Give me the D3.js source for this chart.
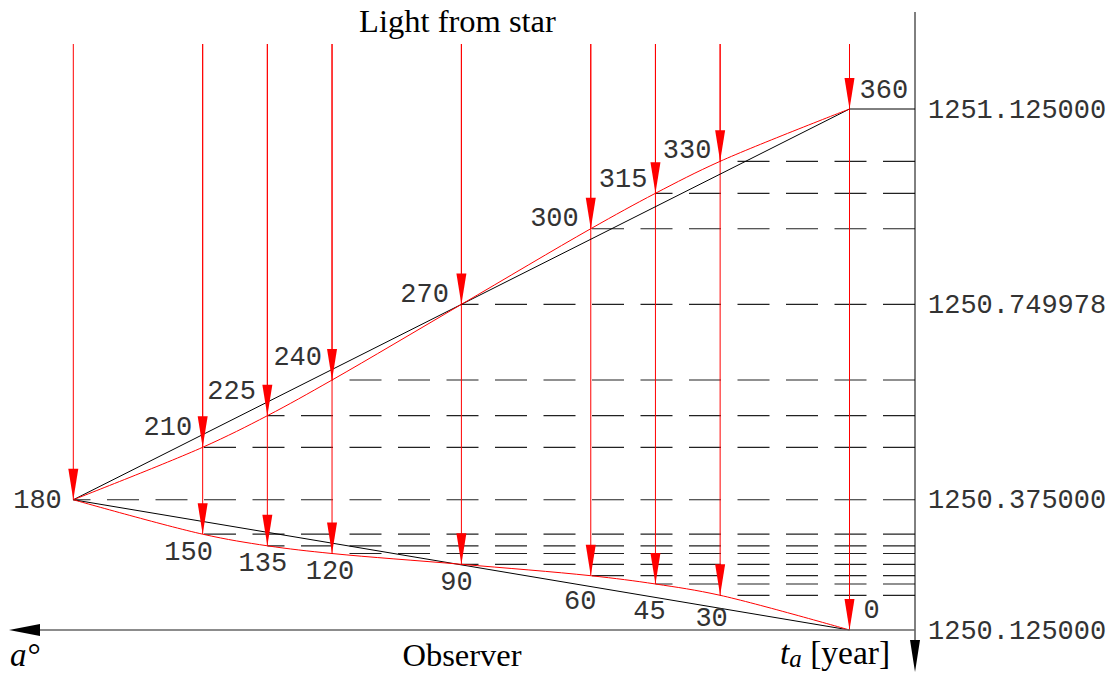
<!DOCTYPE html>
<html>
<head>
<meta charset="utf-8">
<script src="https://cdn.jsdelivr.net/npm/d3@7"></script>
<style>
  html, body { margin: 0; padding: 0; background: #fff; }
  svg { display: block; }
</style>
</head>
<body>
<svg id="chart" width="1110" height="673"></svg>
<script>
// Orbital angle of the observer (degrees) and the year at which light arrives
const angles = [0, 30, 45, 60, 90, 120, 135, 150, 180, 210, 225, 240, 270, 300, 315, 330, 360];
const arrivalTimes = [1250.125, 1250.1916, 1250.2133, 1250.2292, 1250.2511, 1250.2718, 1250.2866, 1250.3089,
                      1250.375, 1250.4757, 1250.5363, 1250.6048, 1250.749978, 1250.8952, 1250.9632, 1251.0246, 1251.125];

// Uniform-time reference path (straight segments)
const refAngles = [0, 180, 360];
const refTimes = [1250.125, 1250.375, 1251.125];

// Year values printed on the time axis
const yearTicks = [1250.125, 1250.375, 1250.749978, 1251.125];

// Label placement around each point
const labelPlace = {
  0:   { anchor: "start",  dx: 14,   dy: -12 },
  30:  { anchor: "middle", dx: -8.5, dy: 31 },
  45:  { anchor: "middle", dx: -6,   dy: 35 },
  60:  { anchor: "middle", dx: -10.5,dy: 33 },
  90:  { anchor: "middle", dx: -5,   dy: 26 },
  120: { anchor: "middle", dx: -2,   dy: 25.5 },
  135: { anchor: "middle", dx: -4.5, dy: 25 },
  150: { anchor: "middle", dx: -14,  dy: 26 },
  180: { anchor: "end",    dx: -11.5,dy: 8.5 },
  210: { anchor: "end",    dx: -10.5,dy: -12.3 },
  225: { anchor: "end",    dx: -11.5,dy: -16.7 },
  240: { anchor: "end",    dx: -10,  dy: -15 },
  270: { anchor: "end",    dx: -12.5,dy: -2.4 },
  300: { anchor: "end",    dx: -12,  dy: -2.7 },
  315: { anchor: "end",    dx: -8,   dy: -6 },
  330: { anchor: "end",    dx: -8.7, dy: -3 },
  360: { anchor: "start",  dx: 10,   dy: -11 }
};

const svg = d3.select("#chart");
const RED = "#ff0000";
const MONO = "'Liberation Mono', 'Courier New', monospace";
const SERIF = "'Liberation Serif', 'DejaVu Serif', serif";
const LABEL_INK = "#333";

// Angle scale: 0° on the right, 180° on the left; the second half folds back
const xAngle = d3.scaleLinear().domain([0, 180]).range([849.5, 73.3]);
const xOf = a => xAngle(a <= 180 ? a : 360 - a);
const y = d3.scaleLinear().domain([1250.125, 1251.125]).range([630, 109]);

const axisX = 915;
const rayTop = 44;

const pts = angles.map((a, i) => ({ a, t: arrivalTimes[i], x: xOf(a), y: y(arrivalTimes[i]) }));

// Horizontal guides from each arrival point to the time axis
const guides = svg.append("g");
pts.forEach(p => {
  if (p.a === 0) return;
  guides.append("line")
    .attr("x1", axisX).attr("x2", p.x)
    .attr("y1", p.y).attr("y2", p.y)
    .attr("stroke", p.a === 360 ? "#000" : "#222")
    .attr("stroke-width", p.a === 360 ? 1 : 1.2)
    .attr("stroke-dasharray", p.a === 360 ? null : "32,16.5");
});

// Light rays from the star
const rays = svg.append("g");
pts.forEach(p => {
  rays.append("line")
    .attr("x1", p.x).attr("x2", p.x)
    .attr("y1", rayTop).attr("y2", p.y)
    .attr("stroke", RED).attr("stroke-width", 1);
});

// Reference path (black)
const refLine = d3.line().x(d => xOf(d[0])).y(d => y(d[1]));
svg.append("path")
  .attr("d", refLine(refAngles.map((a, i) => [a, refTimes[i]])))
  .attr("fill", "none").attr("stroke", "#000").attr("stroke-width", 1);

// Arrival curve (red), drawn as two branches meeting at 180°
const curve = d3.line().x(d => d.x).y(d => d.y).curve(d3.curveCatmullRom.alpha(0.5));
svg.append("path").attr("d", curve(pts.filter(p => p.a <= 180)))
  .attr("fill", "none").attr("stroke", RED).attr("stroke-width", 1);
svg.append("path").attr("d", curve(pts.filter(p => p.a >= 180)))
  .attr("fill", "none").attr("stroke", RED).attr("stroke-width", 1);

// Arrowheads at the arrival points
const heads = svg.append("g");
pts.forEach(p => {
  heads.append("path")
    .attr("d", `M${p.x},${p.y} L${p.x - 5},${p.y - 31} L${p.x + 5},${p.y - 31} Z`)
    .attr("fill", RED);
});

// Angle labels
const labels = svg.append("g")
  .attr("font-family", MONO).attr("font-size", 27).attr("fill", LABEL_INK);
pts.forEach(p => {
  const lp = labelPlace[p.a];
  labels.append("text")
    .attr("x", p.x + lp.dx).attr("y", p.y + lp.dy)
    .attr("text-anchor", lp.anchor)
    .text(p.a);
});

// Time axis on the right
svg.append("line")
  .attr("x1", axisX).attr("x2", axisX).attr("y1", 12).attr("y2", 642)
  .attr("stroke", "#000").attr("stroke-width", 1);
svg.append("path")
  .attr("d", `M${axisX},672 L${axisX - 5},640 L${axisX + 5},640 Z`).attr("fill", "#000");

const yearAxis = d3.axisRight(y)
  .tickValues(yearTicks)
  .tickSize(0)
  .tickPadding(13)
  .tickFormat(d3.format(".6f"));
const ya = svg.append("g").attr("transform", `translate(${axisX},0)`).call(yearAxis);
ya.select(".domain").remove();
ya.selectAll("text")
  .attr("font-family", MONO).attr("font-size", 27).attr("fill", LABEL_INK)
  .attr("dy", "0.3em");

// Observer baseline with arrow pointing toward increasing angle
svg.append("line")
  .attr("x1", 38).attr("x2", axisX).attr("y1", 630).attr("y2", 630)
  .attr("stroke", "#666").attr("stroke-width", 1.5);
svg.append("path")
  .attr("d", "M9,630 L40,624 L40,636 Z").attr("fill", "#000");

// Titles
svg.append("text")
  .attr("x", 457.5).attr("y", 32).attr("text-anchor", "middle")
  .attr("font-family", SERIF).attr("font-size", 32.5).attr("fill", "#000")
  .text("Light from star");
svg.append("text")
  .attr("x", 462).attr("y", 666).attr("text-anchor", "middle")
  .attr("font-family", SERIF).attr("font-size", 32.5).attr("fill", "#000")
  .text("Observer");
svg.append("text")
  .attr("x", 10).attr("y", 666)
  .attr("font-family", SERIF).attr("font-size", 33).attr("font-style", "italic").attr("fill", "#000")
  .text("a°");
const ta = svg.append("text")
  .attr("x", 780).attr("y", 664)
  .attr("font-family", SERIF).attr("font-size", 33.5).attr("fill", "#000");
ta.append("tspan").attr("font-style", "italic").text("t");
ta.append("tspan").attr("font-style", "italic").attr("font-size", 25).attr("dy", 3).text("a");
ta.append("tspan").attr("dy", -3).text(" [year]");
</script>
</body>
</html>
